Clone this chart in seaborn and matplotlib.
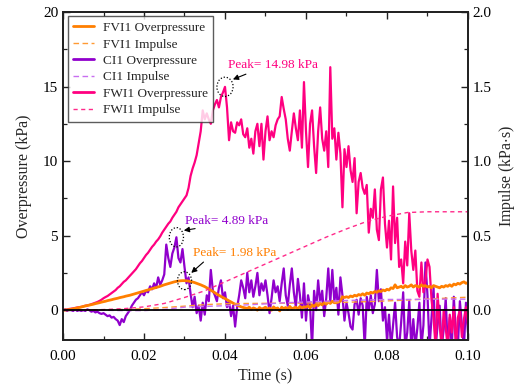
import numpy as np
import pandas as pd
import matplotlib
matplotlib.use("Agg")
import matplotlib.pyplot as plt
from matplotlib.patches import Ellipse
from matplotlib.lines import Line2D
import seaborn as sns

# ---------------- data ----------------
t_start, t_step = 0.0, 0.0005  # overpressure sampling (s)

fwi1_over = [
    0.0, 0.02, 0.05, 0.08, 0.1, 0.12, 0.15, 0.18, 0.2, 0.22, 0.25, 0.3, 0.32, 0.35, 0.4, 0.45, 0.5, 0.55, 0.62, 0.7,
    0.8, 0.88, 0.95, 1.05, 1.15, 1.25, 1.35, 1.5, 1.6, 1.75, 1.9, 2.0, 2.15, 2.3, 2.45, 2.6, 2.75, 2.95, 3.15, 3.3,
    3.5, 3.7, 3.85, 4.05, 4.25, 4.4, 4.6, 4.75, 4.95, 5.2, 5.4, 5.6, 5.8, 5.95, 6.2, 6.4, 6.6, 6.9, 7.1, 7.3,
    7.5, 7.7, 8.2, 9.0, 9.5, 9.9, 10.4, 11.2, 12.0, 13.4, 12.8, 13.2, 12.8, 12.5, 13.4, 13.8, 14.1, 13.6, 14.3, 14.6,
    14.98, 13.6, 11.4, 12.6, 12.0, 11.9, 12.6, 12.4, 12.8, 11.8, 11.6, 12.2, 10.9, 11.5, 10.5, 12.0, 12.5, 11.0, 12.5, 10.1,
    12.0, 13.0, 11.4, 12.0, 11.6, 12.4, 12.8, 13.0, 14.3, 13.5, 12.8, 11.5, 10.7, 12.0, 13.2, 12.2, 11.4, 13.4, 10.9, 15.3,
    12.0, 9.6, 12.5, 13.4, 11.0, 9.2, 12.0, 13.6, 11.5, 10.7, 12.0, 9.6, 16.3, 11.5, 12.2, 10.1, 11.9, 10.5, 6.9, 10.8,
    9.6, 11.0, 9.4, 8.6, 10.2, 6.5, 8.6, 9.2, 8.2, 7.8, 8.4, 5.2, 6.8, 6.2, 8.1, 5.4, 4.7, 8.1, 8.9, 5.8,
    4.2, 6.0, 3.4, 8.3, 4.5, 6.2, 2.9, 3.4, 1.8, 4.6, 3.0, 6.5, 4.0, 2.7, 4.0, 1.3, 0.9, 3.2, 1.2, 2.0,
    3.4, 2.9, 0.7, -0.5, -2.5, 1.1, -1.0, -2.5, 0.0, -1.2, -2.5, -0.3, -1.5, 0.2, -2.5, -0.5, 0.0, -1.8, -0.6, 0.2, -1.0,
]

ci1_over = [
    0.0, 0.05, -0.05, 0.05, 0.0, -0.05, 0.05, -0.05, 0.0, -0.05, 0.0, -0.05, 0.05, 0.0, -0.1, -0.05, -0.15, -0.1, -0.2, -0.25,
    -0.2, -0.3, -0.4, -0.35, -0.5, -0.45, -0.6, -0.7, -1.0, -0.6, -0.8, -0.4, -0.2, 0.0, 0.3, 0.5, 0.7, 0.8, 1.0, 1.2,
    1.0, 1.3, 1.2, 1.6, 1.4, 1.8, 1.5, 2.2, 1.7, 2.0, 2.4, 4.4, 3.5, 2.9, 3.8, 4.2, 4.89, 3.5, 3.2, 4.1,
    2.9, 1.8, 2.2, 1.1, 0.2, 0.9, -0.2, 0.3, -0.7, 0.5, -0.3, 1.0, 0.6, 2.7, 1.3, 1.0, 0.6, 1.5, 2.0, 0.8,
    1.2, 0.2, 0.6, -0.4, 0.3, -1.1, 0.2, 1.0, 2.0, 1.5, 0.8, 2.5, 1.2, 2.0, 0.9, 1.6, 2.5, 1.0, 1.8, 1.3,
    2.0, 1.0, -0.2, 0.8, 2.0, 1.2, 1.6, 0.6, 1.8, 2.8, 1.0, 0.3, 1.7, 2.8, 1.2, 0.2, 2.1, 1.0, -0.5, 1.8,
    -0.7, 1.0, 0.3, -2.5, 1.3, 0.0, 2.0, 0.5, 1.3, -0.4, 0.8, 2.8, 0.5, 2.7, 0.6, 1.5, -0.3, 2.2, 1.0, -0.7,
    0.5, -0.2, -1.1, -1.3, 0.4, 0.7, -0.3, 0.8, 0.3, -2.5, 0.9, 0.0, 1.0, -0.2, 0.4, 2.7, 0.6, 1.4, -0.7, 0.2,
    -2.0, -0.3, -2.5, -1.0, 0.5, -1.8, -2.5, -0.8, 1.2, -2.5, -1.5, 0.6, -2.5, -0.6, -2.5, -1.2, 0.5, -2.5, -1.0, 3.2,
    1.0, -2.5, -0.5, 1.5, -2.5, -1.0, 0.3, -2.5, -1.3, 0.8, -2.5, -0.5, -2.5, 0.9, -1.6, -2.5, 0.6, -1.0, -2.5, 0.5, -1.5,
]

fvi1_over = [
    0.0, 0.01, 0.02, 0.04, 0.06, 0.09, 0.12, 0.15, 0.18, 0.21, 0.25, 0.28, 0.31, 0.34, 0.37, 0.4, 0.44, 0.47, 0.5, 0.54,
    0.57, 0.6, 0.64, 0.67, 0.7, 0.74, 0.77, 0.8, 0.84, 0.87, 0.9, 0.94, 0.97, 1.0, 1.04, 1.08, 1.12, 1.16, 1.2, 1.24,
    1.28, 1.32, 1.36, 1.4, 1.44, 1.48, 1.52, 1.56, 1.6, 1.65, 1.7, 1.74, 1.78, 1.82, 1.86, 1.9, 1.93, 1.95, 1.97, 1.98,
    1.98, 1.97, 1.95, 1.92, 1.89, 1.85, 1.8, 1.75, 1.7, 1.64, 1.58, 1.5, 1.42, 1.34, 1.26, 1.17, 1.08, 1.0, 0.92, 0.85,
    0.78, 0.7, 0.62, 0.55, 0.47, 0.4, 0.33, 0.28, 0.22, 0.18, 0.15, 0.12, 0.2, 0.05, 0.15, 0.1, 0.0, 0.18, 0.08, 0.12,
    0.2, 0.05, 0.15, 0.0, 0.22, 0.1, 0.15, -0.05, 0.2, 0.1, 0.18, 0.05, 0.25, 0.1, 0.15, 0.2, 0.08, 0.25, 0.15, 0.22,
    0.2, 0.3, 0.15, 0.35, 0.25, 0.4, 0.3, 0.45, 0.35, 0.5, 0.4, 0.55, 0.45, 0.6, 0.5, 0.5, 0.55, 0.6, 0.9, 0.85,
    0.9, 0.85, 0.95, 0.9, 1.0, 0.95, 1.05, 1.0, 1.1, 1.0, 1.15, 1.1, 1.2, 1.15, 1.25, 1.2, 1.3, 1.25, 1.35, 1.3,
    1.4, 1.35, 1.5, 1.45, 1.7, 1.5, 1.55, 1.6, 1.5, 1.65, 1.55, 1.6, 1.7, 1.55, 1.65, 1.6, 1.55, 1.7, 1.6, 1.65,
    1.55, 1.6, 1.5, 1.65, 1.6, 1.55, 1.5, 1.6, 1.55, 1.65, 1.6, 1.7, 1.6, 1.75, 1.7, 1.8, 1.75, 1.85, 1.9, 1.8, 1.85,
]

imp_time = [0.0, 0.005, 0.01, 0.015, 0.02, 0.025, 0.03, 0.035, 0.04, 0.045, 0.05,
            0.055, 0.06, 0.065, 0.07, 0.075, 0.08, 0.085, 0.09, 0.095, 0.1]
fwi1_imp = [0.0, 0.001, 0.004, 0.01, 0.022, 0.045, 0.085, 0.13, 0.19, 0.25, 0.31,
            0.37, 0.43, 0.49, 0.545, 0.595, 0.63, 0.655, 0.66, 0.66, 0.66]
fvi1_imp = [0.0, 0.0002, 0.0015, 0.005, 0.01, 0.0175, 0.027, 0.037, 0.043, 0.045, 0.046,
            0.047, 0.048, 0.05, 0.053, 0.057, 0.062, 0.068, 0.075, 0.081, 0.087]
ci1_imp = [0.0, 0.0, -0.0005, -0.003, -0.003, 0.005, 0.02, 0.025, 0.03, 0.035, 0.042,
           0.05, 0.055, 0.06, 0.065, 0.068, 0.072, 0.072, 0.073, 0.074, 0.074]

series_names = ["FVI1", "CI1", "FWI1"]
peak_values = [1.98, 4.89, 14.98]
peak_times = [0.0300, 0.028, 0.040]

# ---------------- styling ----------------
sns.set_style("ticks")
plt.rcParams["font.family"] = ["Liberation Serif", "DejaVu Serif"]
plt.rcParams["mathtext.fontset"] = "stix"

c_fvi = "#FF7F00"
c_ci = "#9000CC"
c_fwi = "#FF0080"
c_fvi_i = "#FF9A33"
c_ci_i = "#C86EF0"
c_fwi_i = "#FF2A8A"

n = len(fwi1_over)
time = t_start + t_step * np.arange(n)
over_df = pd.DataFrame({"t": time, "FVI1": fvi1_over, "CI1": ci1_over, "FWI1": fwi1_over})
imp_df = pd.DataFrame({"t": imp_time, "FVI1": fvi1_imp, "CI1": ci1_imp, "FWI1": fwi1_imp})

fig = plt.figure(figsize=(5.19, 3.86), dpi=100)
ax = fig.add_axes([0.1214, 0.1192, 0.7803, 0.8497])
ax2 = ax.twinx()

sns.lineplot(data=over_df, x="t", y="CI1", ax=ax, color=c_ci, lw=1.6, zorder=2)
sns.lineplot(data=over_df, x="t", y="FWI1", ax=ax, color=c_fwi, lw=1.6, zorder=3)
sns.lineplot(data=over_df, x="t", y="FVI1", ax=ax, color=c_fvi, lw=2.0, zorder=4)

sns.lineplot(data=imp_df, x="t", y="FVI1", ax=ax2, color=c_fvi_i, lw=1.0, ls=(0, (4, 2.5)))
sns.lineplot(data=imp_df, x="t", y="CI1", ax=ax2, color=c_ci_i, lw=1.0, ls=(0, (4, 2.5)))
sns.lineplot(data=imp_df, x="t", y="FWI1", ax=ax2, color=c_fwi_i, lw=1.0, ls=(0, (3, 2.5)))
ax2.axhline(0, color="black", lw=1.3, zorder=5)

ax.set_xlim(0, 0.1)
ax.set_ylim(-2, 20)
ax2.set_ylim(-0.2, 2.0)

ax.set_xticks(np.arange(0, 0.1001, 0.02))
ax.set_xticklabels(["0.00", "0.02", "0.04", "0.06", "0.08", "0.10"])
ax.set_xticks(np.arange(0.01, 0.1, 0.02), minor=True)
ax.set_yticks([0, 5, 10, 15, 20])
ax.set_yticks([2.5, 7.5, 12.5, 17.5], minor=True)
ax2.set_yticks([0.0, 0.5, 1.0, 1.5, 2.0])
ax2.set_yticklabels(["0.0", "0.5", "1.0", "1.5", "2.0"])
ax2.set_yticks([0.25, 0.75, 1.25, 1.75], minor=True)

for a in (ax, ax2):
    a.tick_params(which="major", direction="in", length=5, width=1.0, labelsize=11, colors="#222222", labelcolor="black")
    a.tick_params(which="minor", direction="in", length=3, width=0.9, colors="#222222")
    for s in a.spines.values():
        s.set_linewidth(1.3)
        s.set_color("#222222")
ax.tick_params(which="both", top=True, right=False)
ax2.tick_params(which="both", right=True, left=False)
ax.tick_params(axis="x", pad=7)

ax.set_xlabel("Time (s)", fontsize=11.5, labelpad=4)
ax.set_ylabel("Overpressure (kPa)", fontsize=11.5, labelpad=8)
ax2.set_ylabel("Impulse (kPa$\\cdot$s)", fontsize=11.5, labelpad=4)

# peak annotations
ann_colors = [c_fvi, c_ci, c_fwi]
text_pos = [(0.0322, 3.45), (0.0302, 5.55), (0.0407, 16.05)]
arrow_tail = [(0.0352, 3.35), (0.0333, 5.5), (0.0458, 15.9)]
ell_size = [(0.0035, 1.2), (0.0035, 1.3), (0.0040, 1.3)]
for name, pv, pt, col, tp, at, es in zip(series_names, peak_values, peak_times, ann_colors,
                                         text_pos, arrow_tail, ell_size):
    ax.add_patch(Ellipse((pt, pv), es[0], es[1], fill=False, ls=(0, (1, 1.5)), lw=0.9, ec="black", zorder=6))
    ax.annotate("", xy=(pt + es[0] * 0.33, pv + es[1] * 0.33), xytext=at,
                arrowprops=dict(arrowstyle="-|>", color="black", lw=0.8, mutation_scale=8), zorder=6)
    ax.text(tp[0], tp[1], f"Peak= {pv:.2f} kPa", color=col, fontsize=9.5, va="bottom", ha="left", zorder=6)

handles = [
    Line2D([], [], color=c_fvi, lw=2.0),
    Line2D([], [], color=c_fvi_i, lw=1.0, ls=(0, (4, 2.5))),
    Line2D([], [], color=c_ci, lw=2.0),
    Line2D([], [], color=c_ci_i, lw=1.0, ls=(0, (4, 2.5))),
    Line2D([], [], color=c_fwi, lw=2.0),
    Line2D([], [], color=c_fwi_i, lw=1.0, ls=(0, (3, 2.5))),
]
labels = [f"{s} {k}" for s in series_names for k in ("Overpressure", "Impulse")]
leg = ax2.legend(handles, labels, loc="upper left", bbox_to_anchor=(0.005, 0.995), fontsize=9.5,
                 frameon=True, fancybox=False, edgecolor="#333333", handlelength=1.55,
                 borderpad=0.42, labelspacing=0.32, handletextpad=0.7, borderaxespad=0.2)
leg.get_frame().set_linewidth(1.0)
leg.set_zorder(10)

fig.savefig("out.png", dpi=100)
